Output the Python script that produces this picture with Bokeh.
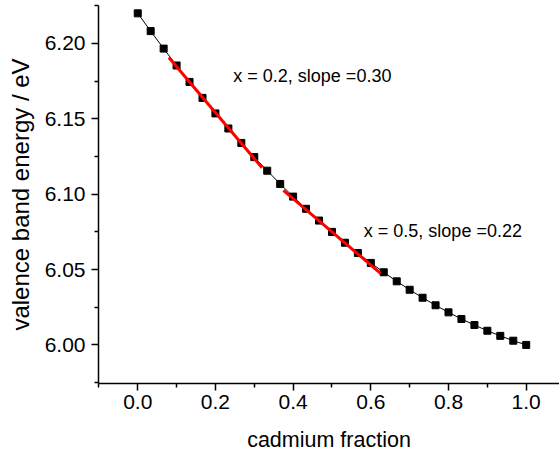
from bokeh.plotting import figure
from bokeh.models import FixedTicker, PrintfTickFormatter, Range1d
from bokeh.core.properties import value
from bokeh.embed import file_html
from bokeh.resources import INLINE

# Data
cd_fraction = [0.0, 0.0333, 0.0667, 0.1, 0.1333, 0.1667, 0.2, 0.2333, 0.2667, 0.3,
               0.3333, 0.3667, 0.4, 0.4333, 0.4667, 0.5, 0.5333, 0.5667, 0.6, 0.6333,
               0.6667, 0.7, 0.7333, 0.7667, 0.8, 0.8333, 0.8667, 0.9, 0.9333, 0.9667, 1.0]
vb_energy = [6.2200, 6.2082, 6.1966, 6.1854, 6.1745, 6.1639, 6.1536, 6.1436, 6.1340, 6.1246,
             6.1156, 6.1068, 6.0984, 6.0903, 6.0825, 6.0750, 6.0678, 6.0610, 6.0544, 6.0482,
             6.0422, 6.0366, 6.0313, 6.0263, 6.0216, 6.0172, 6.0132, 6.0094, 6.0060, 6.0028, 6.0000]

fit1_x = [0.08, 0.32]
fit1_y = [6.1907, 6.1175]
fit2_x = [0.375, 0.625]
fit2_y = [6.1025, 6.0475]

label1 = "x = 0.2, slope =0.30"
label2 = "x = 0.5, slope =0.22"

x_ticks = [0.0, 0.2, 0.4, 0.6, 0.8, 1.0]
y_ticks = [6.00, 6.05, 6.10, 6.15, 6.20]

FONT = "Liberation Sans"

p = figure(width=559, height=459, output_backend="svg", toolbar_location=None,
           x_range=Range1d(-0.101, 1.0857), y_range=Range1d(5.9744, 6.2252),
           min_border_left=98, min_border_right=0, min_border_top=5, min_border_bottom=76)
p.outline_line_color = None
p.xgrid.visible = False
p.ygrid.visible = False
p.background_fill_color = "white"
p.border_fill_color = "white"

p.line(cd_fraction, vb_energy, line_color="black", line_width=1)
p.scatter(cd_fraction, vb_energy, marker="square", size=7, fill_color="black", line_color="black")
p.line(fit1_x, fit1_y, line_color="#ff0000", line_width=3)
p.line(fit2_x, fit2_y, line_color="#ff0000", line_width=3)

p.text(x=[0.246], y=[6.1781], text=[label1], text_font=value(FONT), text_font_size="18px",
       text_align="left", text_baseline="middle", text_color="black")
p.text(x=[0.582], y=[6.0755], text=[label2], text_font=value(FONT), text_font_size="18px",
       text_align="left", text_baseline="middle", text_color="black")

for ax in (p.xaxis[0], p.yaxis[0]):
    ax.axis_line_color = "black"
    ax.axis_line_width = 1.5
    ax.major_tick_line_color = "black"
    ax.minor_tick_line_color = "black"
    ax.major_tick_line_width = 1.5
    ax.minor_tick_line_width = 1.5
    ax.major_tick_out = 7
    ax.major_tick_in = 0
    ax.minor_tick_out = 4
    ax.minor_tick_in = 0
    ax.major_label_text_font = FONT
    ax.major_label_text_font_size = "21px"
    ax.major_label_text_color = "black"
    ax.axis_label_text_font = FONT
    ax.axis_label_text_font_style = "normal"
    ax.axis_label_text_color = "black"

p.xaxis.axis_label_text_font_size = "21.5px"
p.yaxis.axis_label_text_font_size = "24px"
p.xaxis.ticker = FixedTicker(ticks=x_ticks, minor_ticks=[-0.1, 0.1, 0.3, 0.5, 0.7, 0.9])
p.xaxis.formatter = PrintfTickFormatter(format="%.1f")
p.yaxis.ticker = FixedTicker(ticks=y_ticks, minor_ticks=[5.975, 6.025, 6.075, 6.125, 6.175, 6.225])
p.yaxis.formatter = PrintfTickFormatter(format="%.2f")
p.xaxis.axis_label = "cadmium fraction"
p.yaxis.axis_label = "valence band energy / eV"
p.xaxis.major_label_standoff = 4
p.yaxis.major_label_standoff = 6
p.xaxis.axis_label_standoff = 16
p.yaxis.axis_label_standoff = 8

open("out.html", "w").write(file_html(p, INLINE))
